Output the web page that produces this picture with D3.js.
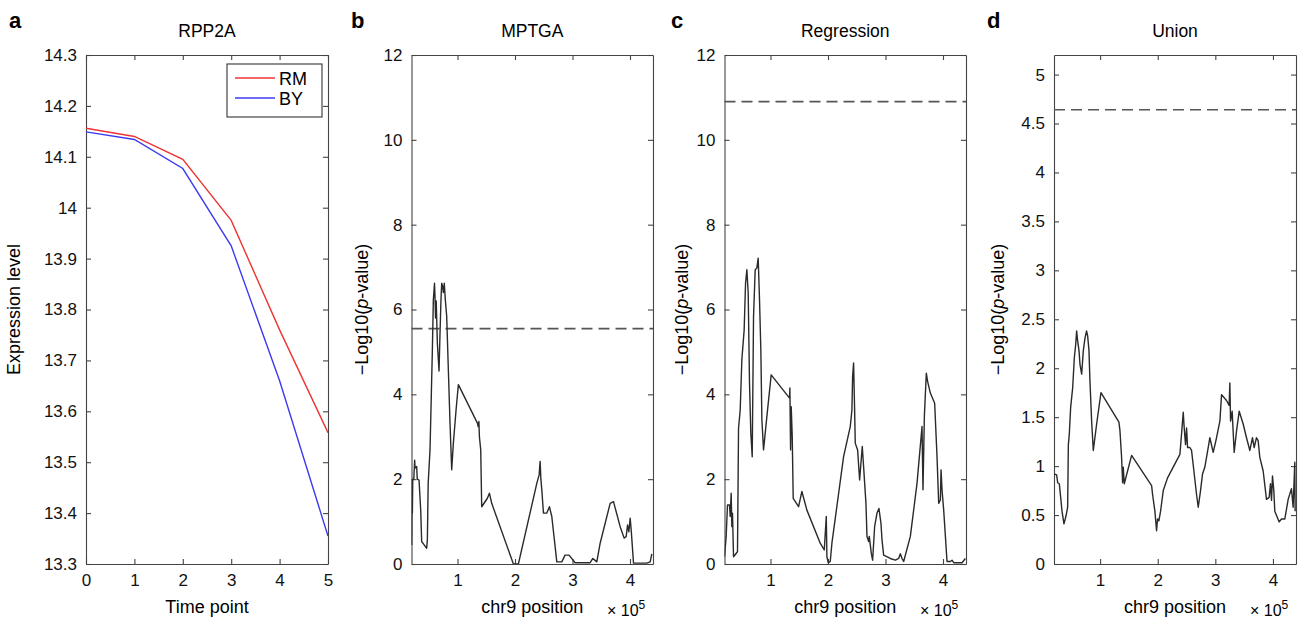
<!DOCTYPE html>
<html>
<head>
<meta charset="utf-8">
<script src="https://cdn.jsdelivr.net/npm/d3@7"></script>
<style>
  body { margin: 0; background: #fff; }
  svg { font-family: "Liberation Sans", Arial, sans-serif; }
</style>
</head>
<body>
<div id="fig"></div>
<script>
// ---- data ----
var timePoints = [0, 1, 2, 3, 4, 5];
var rmExpr = [14.156, 14.14, 14.095, 13.975, 13.76, 13.558];
var byExpr = [14.149, 14.134, 14.077, 13.925, 13.66, 13.355];
var exprTicks = [13.3, 13.4, 13.5, 13.6, 13.7, 13.8, 13.9, 14, 14.1, 14.2, 14.3];

// chr9 position (x 10^5), -log10(p)
var mptga = [[0.203,0.45],[0.210,1.98],[0.215,1.20],[0.222,2.0],[0.240,2.0],[0.255,2.45],[0.262,2.26],[0.275,2.28],
  [0.290,2.30],[0.300,2.0],[0.331,1.98],[0.360,1.27],[0.377,0.53],[0.420,0.45],[0.464,0.37],[0.476,0.57],[0.490,1.9],
  [0.522,2.69],[0.545,4.0],[0.563,5.05],[0.580,6.23],[0.600,6.62],[0.609,6.3],[0.618,5.8],[0.630,6.2],[0.650,5.2],
  [0.679,4.55],[0.696,5.44],[0.712,6.2],[0.725,6.62],[0.740,6.55],[0.754,6.4],[0.770,6.62],[0.790,6.2],[0.812,5.84],
  [0.841,4.58],[0.870,3.32],[0.899,2.22],[0.928,2.85],[0.975,3.63],[1.015,4.23],[1.346,3.32],[1.360,3.24],[1.372,3.36],
  [1.381,3.0],[1.404,2.69],[1.421,1.35],[1.520,1.55],[1.555,1.67],[1.595,1.43],[1.972,0],[2.059,0],[2.379,1.90],
  [2.420,2.1],[2.437,2.42],[2.450,2.0],[2.466,1.75],[2.495,1.20],[2.553,1.20],[2.599,1.35],[2.640,1.12],[2.727,0.05],
  [2.814,0.05],[2.870,0.21],[2.940,0.21],[3.046,0.03],[3.307,0.03],[3.354,0.13],[3.423,0.05],[3.481,0.49],[3.655,1.43],
  [3.713,1.47],[3.829,0.88],[3.898,0.61],[3.934,0.65],[3.957,0.92],[3.980,0.76],[4.003,1.08],[4.021,0.80],[4.061,0.02],
  [4.293,0.02],[4.351,0.05],[4.380,0.24]];

var regression = [[0.200,0.17],[0.229,0.65],[0.252,1.39],[0.287,1.39],[0.299,1.12],[0.316,1.67],[0.328,0.88],[0.339,1.20],
  [0.357,0.17],[0.426,0.29],[0.444,3.20],[0.473,3.63],[0.502,4.82],[0.542,5.52],[0.566,6.62],[0.589,6.94],[0.612,6.39],
  [0.635,4.26],[0.658,3.08],[0.682,2.53],[0.705,5.84],[0.734,6.94],[0.763,6.98],[0.786,7.21],[0.809,6.23],[0.832,5.05],
  [0.850,3.40],[0.879,2.69],[0.937,3.48],[1.012,4.46],[1.331,3.91],[1.337,4.15],[1.349,2.69],[1.360,3.71],[1.378,3.01],
  [1.395,1.55],[1.488,1.35],[1.546,1.71],[1.633,1.27],[1.865,0.49],[1.935,0.33],[1.970,1.12],[1.981,0.17],[2.005,0.03],
  [2.039,0.06],[2.068,0.49],[2.271,2.53],[2.387,3.24],[2.416,3.63],[2.428,4.42],[2.445,4.74],[2.463,3.63],[2.474,2.85],
  [2.515,2.69],[2.550,1.98],[2.573,2.38],[2.596,2.77],[2.619,2.30],[2.660,1.43],[2.678,0.65],[2.707,0.53],[2.718,0.65],
  [2.753,0.25],[2.776,0.09],[2.811,0.88],[2.852,1.20],[2.886,1.31],[2.921,0.96],[2.939,0.57],[2.968,0.21],[3.084,0.13],
  [3.171,0.09],[3.229,0.13],[3.258,0.24],[3.287,0.13],[3.316,0.06],[3.432,0.65],[3.548,1.90],[3.635,3.24],[3.652,1.75],
  [3.676,3.48],[3.710,4.50],[3.733,4.30],[3.780,4.03],[3.855,3.79],[3.896,2.53],[3.925,1.43],[3.954,1.51],[3.966,2.22],
  [3.983,1.75],[4.012,1.27],[4.070,0.06],[4.128,0.06],[4.157,0.09],[4.186,0.03],[4.331,0.03],[4.389,0.13]];

var union = [[0.200,0.92],[0.246,0.91],[0.264,0.83],[0.292,0.82],[0.316,0.68],[0.339,0.54],[0.373,0.41],[0.408,0.49],
  [0.437,0.58],[0.449,1.22],[0.466,1.33],[0.489,1.60],[0.524,1.80],[0.553,2.11],[0.576,2.24],[0.593,2.38],[0.610,2.28],
  [0.634,2.18],[0.651,2.04],[0.680,1.94],[0.709,2.18],[0.738,2.31],[0.766,2.38],[0.784,2.33],[0.807,2.18],[0.824,1.87],
  [0.853,1.46],[0.882,1.16],[0.940,1.43],[1.015,1.75],[1.327,1.45],[1.345,1.36],[1.373,1.09],[1.391,0.83],[1.402,0.99],
  [1.420,0.82],[1.547,1.11],[1.894,0.80],[1.911,0.71],[1.951,0.54],[1.980,0.34],[1.997,0.46],[2.020,0.44],[2.050,0.54],
  [2.096,0.75],[2.171,0.88],[2.385,1.12],[2.414,1.33],[2.443,1.55],[2.460,1.39],[2.483,1.22],[2.501,1.39],[2.518,1.19],
  [2.558,1.19],[2.587,1.16],[2.628,0.95],[2.674,0.71],[2.703,0.58],[2.720,0.65],[2.743,0.75],[2.778,0.92],[2.818,0.99],
  [2.876,1.19],[2.905,1.29],[2.963,1.14],[3.021,1.29],[3.079,1.46],[3.108,1.73],[3.194,1.67],[3.240,1.62],[3.252,1.85],
  [3.264,1.46],[3.292,1.56],[3.327,1.14],[3.368,1.36],[3.414,1.56],[3.483,1.43],[3.541,1.29],[3.599,1.16],[3.645,1.29],
  [3.674,1.19],[3.714,1.29],[3.743,1.26],[3.772,1.09],[3.830,0.95],[3.888,0.66],[3.934,0.68],[3.957,0.82],[3.975,0.65],
  [3.992,0.90],[4.015,0.75],[4.032,0.54],[4.073,0.48],[4.108,0.43],[4.148,0.46],[4.206,0.46],[4.264,0.66],[4.321,0.77],
  [4.350,0.58],[4.379,1.04],[4.385,0.54]];

var posTicks = [1, 2, 3, 4];
var pvalTicks = [0, 2, 4, 6, 8, 10, 12];
var unionTicks = [0, 0.5, 1, 1.5, 2, 2.5, 3, 3.5, 4, 4.5, 5];
var thresholds = [5.55, 10.9, 4.64];

// ---- layout ----
var width = 1309, height = 621;
var plotTop = 55, plotBottom = 564;
var fmt = d3.format("~g");

var svg = d3.select("#fig").append("svg")
    .attr("width", width)
    .attr("height", height);

svg.append("defs").selectAll("clipPath")
    .data(["a", "b", "c", "d"])
    .enter().append("clipPath")
    .attr("id", function(d) { return "clip-" + d; })
    .append("rect");

function panel(id, left, right, xDomain, yDomain, xTicks, yTicks) {
    var x = d3.scaleLinear().domain(xDomain).range([left, right]);
    var y = d3.scaleLinear().domain(yDomain).range([plotBottom, plotTop]);
    var g = svg.append("g").attr("class", "panel-" + id);

    d3.select("#clip-" + id + " rect")
        .attr("x", left).attr("y", plotTop)
        .attr("width", right - left).attr("height", plotBottom - plotTop);

    // box with ticks pointing inwards (MATLAB style)
    var ax = [
        [d3.axisBottom(x).tickValues(xTicks).tickFormat(fmt).tickPadding(10), plotBottom, 0],
        [d3.axisTop(x).tickValues(xTicks).tickFormat(""), plotTop, 0],
        [d3.axisLeft(y).tickValues(yTicks).tickFormat(fmt).tickPadding(9), 0, left],
        [d3.axisRight(y).tickValues(yTicks).tickFormat(""), 0, right]
    ];
    ax.forEach(function(a) {
        var sel = g.append("g")
            .attr("transform", "translate(" + a[2] + "," + a[1] + ")")
            .call(a[0].tickSizeInner(-5).tickSizeOuter(0));
        sel.select(".domain").attr("stroke", "#444").attr("stroke-width", 1.1);
        sel.selectAll(".tick line").attr("stroke", "#444").attr("stroke-width", 1.1);
        sel.selectAll(".tick text").attr("fill", "#111").style("font-size", "17px")
            .attr("font-family", "Liberation Sans, Arial, sans-serif");
    });
    return { g: g, x: x, y: y, left: left, right: right };
}

function letterAndTitle(p, letter, lx, title) {
    svg.append("text").attr("x", lx).attr("y", 28)
        .style("font-size", "22px").style("font-weight", "bold")
        .text(letter);
    svg.append("text").attr("x", (p.left + p.right) / 2).attr("y", 37)
        .attr("text-anchor", "middle").style("font-size", "17.5px")
        .text(title);
}

function yLabel(p, offset, parts) {
    var t = svg.append("text")
        .attr("transform", "translate(" + (p.left - offset) + "," + ((plotTop + plotBottom) / 2) + ") rotate(-90)")
        .attr("text-anchor", "middle").style("font-size", "18px");
    parts.forEach(function(s) {
        t.append("tspan").style("font-style", s[1] ? "italic" : "normal").text(s[0]);
    });
}

function xLabel(p, text, sci) {
    svg.append("text").attr("x", (p.left + p.right) / 2).attr("y", 613)
        .attr("text-anchor", "middle").style("font-size", "18px")
        .text(text);
    if (sci) {
        var t = svg.append("text").attr("x", p.right - 46).attr("y", 616)
            .style("font-size", "16px");
        t.append("tspan").text("\u00d7 10");
        t.append("tspan").attr("dy", -7).style("font-size", "12px").text("5");
    }
}

var line = d3.line();

// ---- a: expression ----
var pa = panel("a", 86, 328, [0, 5], [13.3, 14.3], timePoints, exprTicks);
letterAndTitle(pa, "a", 9, "RPP2A");
yLabel(pa, 66, [["Expression level"]]);
xLabel(pa, "Time point", false);

[[rmExpr, "#ee3333"], [byExpr, "#3b3bee"]].forEach(function(s) {
    pa.g.append("path")
        .attr("clip-path", "url(#clip-a)")
        .attr("fill", "none").attr("stroke", s[1]).attr("stroke-width", 1.4)
        .attr("d", line(timePoints.map(function(t, i) { return [pa.x(t), pa.y(s[0][i])]; })));
});

// legend
var leg = pa.g.append("g");
leg.append("rect").attr("x", 227).attr("y", 64).attr("width", 95).attr("height", 53)
    .attr("fill", "#fff").attr("stroke", "#333").attr("stroke-width", 1.1);
[["RM", "#ee3333", 78], ["BY", "#3b3bee", 98]].forEach(function(e) {
    leg.append("line").attr("x1", 235).attr("x2", 275).attr("y1", e[2]).attr("y2", e[2])
        .attr("stroke", e[1]).attr("stroke-width", 1.4);
    leg.append("text").attr("x", 279).attr("y", e[2] + 7).style("font-size", "18px").text(e[0]);
});

// ---- b, c, d: association scans ----
var scans = [
    { id: "b", title: "MPTGA", left: 411.5, right: 653, yMax: 12, ticks: pvalTicks, data: mptga, th: thresholds[0], lx: 351, off: 44 },
    { id: "c", title: "Regression", left: 724.5, right: 966, yMax: 12, ticks: pvalTicks, data: regression, th: thresholds[1], lx: 671, off: 37 },
    { id: "d", title: "Union", left: 1054, right: 1296, yMax: 5.2, ticks: unionTicks, data: union, th: thresholds[2], lx: 987, off: 50 }
];

scans.forEach(function(s) {
    var p = panel(s.id, s.left, s.right, [0.2, 4.4], [0, s.yMax], posTicks, s.ticks);
    letterAndTitle(p, s.id, s.lx, s.title);
    yLabel(p, s.off, [["\u2212Log10("], ["p", true], ["-value)"]]);
    xLabel(p, "chr9 position", true);

    p.g.append("line")
        .attr("x1", p.left).attr("x2", p.right)
        .attr("y1", p.y(s.th)).attr("y2", p.y(s.th))
        .attr("stroke", "#555").attr("stroke-width", 1.6)
        .attr("stroke-dasharray", "11,6");

    p.g.append("path")
        .attr("clip-path", "url(#clip-" + s.id + ")")
        .attr("fill", "none").attr("stroke", "#2a2a2a").attr("stroke-width", 1.4)
        .attr("stroke-linejoin", "round")
        .attr("d", line(s.data.map(function(d) { return [p.x(d[0]), p.y(d[1])]; })));
});
</script>
</body>
</html>
